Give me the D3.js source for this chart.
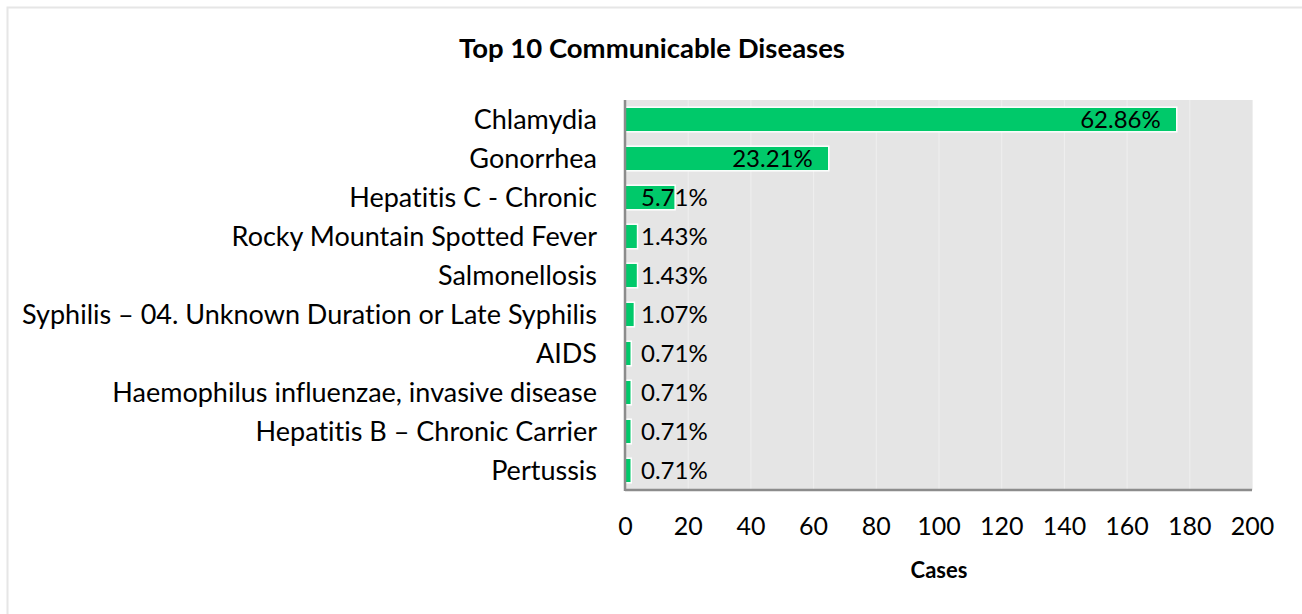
<!DOCTYPE html>
<html>
<head>
<meta charset="utf-8">
<script src="https://cdn.jsdelivr.net/npm/d3@7"></script>
<style>
  html, body { margin: 0; padding: 0; background: #ffffff; }
  svg { display: block; }
  text { font-family: Lato, "Open Sans", sans-serif; fill: #000; font-variant-ligatures: none; font-feature-settings: "liga" 0; }
</style>
</head>
<body>
<svg id="chart" width="1302" height="614"></svg>
<script>
// Reported cases of the ten most frequent communicable diseases
const categories = [
  "Chlamydia",
  "Gonorrhea",
  "Hepatitis C - Chronic",
  "Rocky Mountain Spotted Fever",
  "Salmonellosis",
  "Syphilis \u2013 04. Unknown Duration or Late Syphilis",
  "AIDS",
  "Haemophilus influenzae, invasive disease",
  "Hepatitis B \u2013 Chronic Carrier",
  "Pertussis"
];
const cases = [176, 65, 16, 4, 4, 3, 2, 2, 2, 2];
// All reported cases, used as the base for the percentage labels
const totalCases = 280;
const xTicks = [0, 20, 40, 60, 80, 100, 120, 140, 160, 180, 200];
const chartTitle = "Top 10 Communicable Diseases";
const xAxisTitle = "Cases";

const svg = d3.select("#chart");
const W = 1302, H = 614;
const plot = { left: 625, right: 1252, top: 100, bottom: 490 };
const barColor = "#00c96a";

// outer frame of the chart area
svg.append("rect")
  .attr("x", 7.5).attr("y", 7.5)
  .attr("width", W + 10).attr("height", H + 10)
  .attr("fill", "#fff")
  .attr("stroke", "#e6e6e6").attr("stroke-width", 2);

const x = d3.scaleLinear().domain([0, 200]).range([plot.left, plot.right]);
const y = d3.scaleBand().domain(categories).range([plot.top, plot.bottom])
  .paddingInner(0.37).paddingOuter(0.185);

// plot background
svg.append("rect")
  .attr("x", plot.left).attr("y", plot.top)
  .attr("width", plot.right - plot.left).attr("height", plot.bottom - plot.top)
  .attr("fill", "#e5e5e5");

// vertical gridlines
svg.append("g").selectAll("line").data(xTicks.slice(1)).join("line")
  .attr("x1", d => x(d) + 0.5).attr("x2", d => x(d) + 0.5)
  .attr("y1", plot.top).attr("y2", plot.bottom)
  .attr("stroke", "#efefef").attr("stroke-width", 1);

// bars
svg.append("g").selectAll("rect").data(cases).join("rect")
  .attr("x", x(0))
  .attr("y", (d, i) => y(categories[i]))
  .attr("width", d => x(d) - x(0))
  .attr("height", y.bandwidth())
  .attr("fill", barColor)
  .attr("stroke", "#ffffff").attr("stroke-width", 1.5);

// axis lines
svg.append("line")
  .attr("x1", plot.left).attr("x2", plot.left)
  .attr("y1", plot.top).attr("y2", plot.bottom + 1)
  .attr("stroke", "#8c8c8c").attr("stroke-width", 2.5);
svg.append("line")
  .attr("x1", plot.left).attr("x2", plot.right)
  .attr("y1", plot.bottom).attr("y2", plot.bottom)
  .attr("stroke", "#8c8c8c").attr("stroke-width", 2.5);

// category axis labels
const yAxis = d3.axisLeft(y).tickSize(0).tickPadding(28);
const gy = svg.append("g").attr("transform", `translate(${plot.left},0)`).call(yAxis);
gy.select(".domain").remove();
gy.selectAll("text")
  .style("font-family", "Lato, sans-serif")
  .style("font-size", "27px")
  .attr("fill", "#000")
  .attr("dy", "0.35em");

// value axis labels
const xAxis = d3.axisBottom(x).tickValues(xTicks).tickSize(0).tickPadding(27);
const gx = svg.append("g").attr("transform", `translate(0,${plot.bottom})`).call(xAxis);
gx.select(".domain").remove();
gx.selectAll("text")
  .style("font-family", "Lato, sans-serif")
  .style("font-size", "25px")
  .attr("fill", "#000");

// percentage labels: inside the bar end when they fit, otherwise from the base
const fmt = v => (v / totalCases * 100).toFixed(2) + "%";
const labels = svg.append("g").selectAll("text").data(cases).join("text")
  .attr("y", (d, i) => y(categories[i]) + y.bandwidth() / 2)
  .attr("dy", "0.36em")
  .style("font-size", "24px")
  .text(d => fmt(d));
labels.each(function (d) {
  const w = this.getComputedTextLength();
  const endX = x(d) - 16;
  const startX = Math.max(endX - w, plot.left + 16);
  d3.select(this).attr("x", startX);
});

// titles
svg.append("text")
  .attr("x", 652).attr("y", 58)
  .attr("text-anchor", "middle")
  .style("font-size", "27.5px").style("font-weight", "bold")
  .text(chartTitle);
svg.append("text")
  .attr("x", (plot.left + plot.right) / 2 + 0.5).attr("y", 578)
  .attr("text-anchor", "middle")
  .style("font-size", "22px").style("font-weight", "bold")
  .text(xAxisTitle);
</script>
</body>
</html>
